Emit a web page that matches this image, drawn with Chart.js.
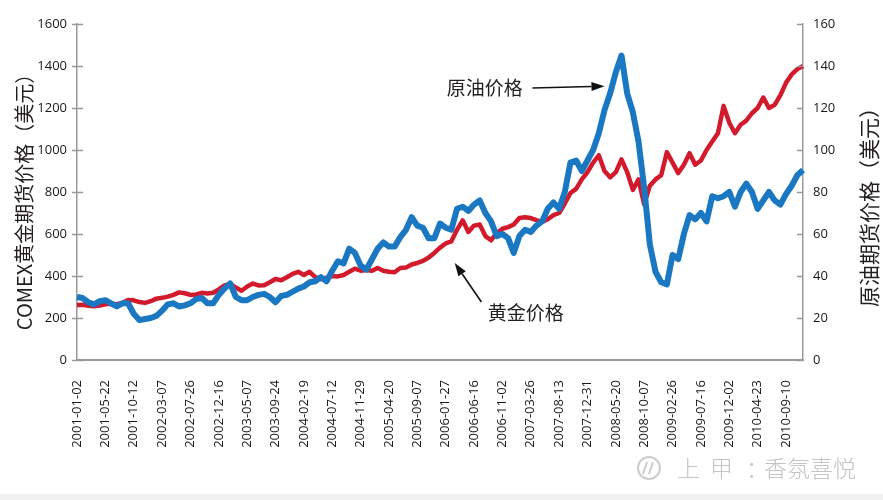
<!DOCTYPE html>
<html>
<head>
<meta charset="utf-8">
<script src="https://cdn.jsdelivr.net/npm/chart.js@4.4.1/dist/chart.umd.min.js"></script>
<style>
html,body{margin:0;padding:0;background:#fff;}
#wrap{width:883px;height:500px;position:relative;overflow:hidden;}
canvas{display:block;}
</style>
</head>
<body>
<div id="wrap"><canvas id="c" width="883" height="500"></canvas></div>
<script>
// ---------- data ----------
const tickLabels = [
  '2001-01-02','2001-05-22','2001-10-12','2002-03-07','2002-07-26','2002-12-16',
  '2003-05-07','2003-09-24','2004-02-19','2004-07-12','2004-11-29','2005-04-20',
  '2005-09-07','2006-01-27','2006-06-16','2006-11-02','2007-03-26','2007-08-13',
  '2007-12-31','2008-05-20','2008-10-07','2009-02-26','2009-07-16','2009-12-02',
  '2010-04-23','2010-09-10'
];
const samplesPerTick = 5; // data samples between two date labels

// COMEX gold futures (USD), sampled
const goldPrices = [
  262,263,258,256,259, 265,268,266,272,286,
  284,276,272,280,292, 296,302,310,322,318,
  310,312,320,317,320, 336,355,362,345,330,
  350,364,355,356,370, 386,380,394,410,420,
  405,420,395,385,392, 400,398,405,420,435,
  425,428,425,438,425, 420,418,438,440,455,
  462,472,488,510,535, 555,565,620,665,610,
  640,645,590,570,605, 625,633,645,676,680,
  676,666,657,670,690, 700,745,795,815,860,
  895,940,975,900,870, 895,955,895,810,860,
  740,830,860,880,990, 940,890,930,985,930,
  950,1000,1040,1080,1210, 1130,1080,1120,1140,1175,
  1200,1250,1200,1215,1260, 1320,1360,1385,1400
];

// Crude oil futures (USD), sampled
const oilPrices = [
  30,29.5,27.5,26.5,28, 28.5,27,25.5,27,27,
  22,19,19.5,20,21, 23.5,26.5,27,25.5,26,
  27,29,29.5,27,27, 31,34,36.5,30,28.5,
  28.5,30,31,31.5,30, 27.5,30.5,31,32.5,34,
  35,37,37.5,39.5,37.5, 42.5,47,46,53,51,
  45,43,48,53,56, 54,54,58.5,62,68,
  64,63,58,58,65, 63,62,72,73,71,
  74,76,70,66,59, 60,58,51,59,62,
  61,64,66,72,75, 72,80,94,95,90,
  95,100,108,119,127, 137,145,127,118,104,
  82,55,42,37,36, 50,48,60,69,67,
  70,66,78,77,78, 80,73,80,84,80,
  72,76,80,76,74, 79,83,88,90.5
];

const goldTicks = {min: 0, max: 1600, step: 200};
const oilTicks = {min: 0, max: 160, step: 20};

const leftTitle = 'COMEX黄金期货价格（美元）';
const rightTitle = '原油期货价格（美元）';
const oilNoteText = '原油价格';
const goldNoteText = '黄金价格';
const watermarkParts = ['上', '甲', '：', '香氛喜悦'];

// category labels: a date every samplesPerTick samples
const labels = oilPrices.map((_, i) =>
  (i % samplesPerTick === 0 && tickLabels[i / samplesPerTick]) ? tickLabels[i / samplesPerTick] : '');

// ---------- decoration plugin ----------
const TICK_FONT = "'Open Sans', 'Liberation Sans', sans-serif";
const CJK_FONT = "'Noto Sans CJK SC', sans-serif";

function arrow(ctx, x1, y1, x2, y2) {
  const ang = Math.atan2(y2 - y1, x2 - x1);
  const L = 13, W = 4.5;
  const bx = x2 - L * Math.cos(ang), by = y2 - L * Math.sin(ang);
  ctx.beginPath();
  ctx.moveTo(x1, y1);
  ctx.lineTo(bx, by);
  ctx.stroke();
  ctx.beginPath();
  ctx.moveTo(x2, y2);
  ctx.lineTo(bx + W * Math.sin(ang), by - W * Math.cos(ang));
  ctx.lineTo(bx - W * Math.sin(ang), by + W * Math.cos(ang));
  ctx.closePath();
  ctx.fill();
}

const decor = {
  id: 'decor',
  beforeDraw(chart) {
    const ctx = chart.ctx;
    ctx.save();
    ctx.fillStyle = '#ffffff';
    ctx.fillRect(0, 0, chart.width, chart.height);
    ctx.fillStyle = '#f1f1f1';
    ctx.fillRect(0, 494, chart.width, 6);
    ctx.restore();
  },
  afterDraw(chart) {
    const ctx = chart.ctx, a = chart.chartArea;
    const xs = chart.scales.x, ys = chart.scales.y, y1 = chart.scales.y1;
    ctx.save();
    // tick marks
    ctx.strokeStyle = '#9a9a9a';
    ctx.lineWidth = 1.5;
    ys.ticks.forEach((t, i) => {
      const py = Math.round(ys.getPixelForTick(i)) + 0.5;
      ctx.beginPath(); ctx.moveTo(a.left - 5, py); ctx.lineTo(a.left + 6, py); ctx.stroke();
    });
    y1.ticks.forEach((t, i) => {
      const py = Math.round(y1.getPixelForTick(i)) + 0.5;
      ctx.beginPath(); ctx.moveTo(a.right - 6, py); ctx.lineTo(a.right, py); ctx.stroke();
    });

    // axis titles (both read bottom-to-top)
    ctx.fillStyle = '#231f20';
    ctx.textAlign = 'center';
    ctx.textBaseline = 'middle';
    ctx.font = '20px ' + CJK_FONT;
    ctx.save();
    ctx.translate(24, (a.top + a.bottom) / 2 + 5);
    ctx.rotate(-Math.PI / 2);
    ctx.fillText(leftTitle, 0, 0);
    ctx.restore();
    ctx.font = '21px ' + CJK_FONT;
    ctx.save();
    ctx.translate(869, (a.top + a.bottom) / 2 + 10);
    ctx.rotate(-Math.PI / 2);
    ctx.fillText(rightTitle, 0, 0);
    ctx.restore();

    // annotations, anchored in data space
    ctx.font = '19px ' + CJK_FONT;
    ctx.textAlign = 'left';
    ctx.fillStyle = '#231f20';
    ctx.strokeStyle = '#111';
    ctx.lineWidth = 1.6;
    const px = v => xs.getPixelForValue(v);
    // oil note
    ctx.fillText(oilNoteText, px(65.2), y1.getPixelForValue(129.5));
    ctx.fillStyle = '#111';
    arrow(ctx, px(80.3), y1.getPixelForValue(129.5), px(93.0), y1.getPixelForValue(130.4));
    // gold note
    ctx.fillStyle = '#231f20';
    ctx.fillText(goldNoteText, px(72.4), ys.getPixelForValue(224));
    ctx.fillStyle = '#111';
    arrow(ctx, px(71.3), ys.getPixelForValue(276), px(66.6), ys.getPixelForValue(462));

    // watermark
    ctx.strokeStyle = '#cccccc';
    ctx.lineWidth = 2;
    ctx.beginPath();
    ctx.arc(649, 468, 11, 0, Math.PI * 2);
    ctx.stroke();
    ctx.beginPath();
    ctx.moveTo(643, 474); ctx.lineTo(647, 462); ctx.moveTo(649, 474); ctx.lineTo(653, 462);
    ctx.stroke();
    ctx.fillStyle = '#c4c4c4';
    ctx.font = '300 23px ' + CJK_FONT;
    ctx.textBaseline = 'middle';
    const wmX = [677, 710, 746, 764];
    watermarkParts.forEach((t, i) => ctx.fillText(t, wmX[i], 468));
    ctx.restore();
  }
};

// ---------- chart ----------
const tickFont = {family: TICK_FONT, size: 13};
const tickColor = '#1a1718';
const axisGrey = '#9a9a9a';

new Chart(document.getElementById('c').getContext('2d'), {
  type: 'line',
  data: {
    labels: labels,
    datasets: [
      {
        label: '原油价格', data: oilPrices, yAxisID: 'y1',
        borderColor: '#1a78c2', borderWidth: 6, pointRadius: 0,
        tension: 0, fill: false, order: 0, borderJoinStyle: 'round'
      },
      {
        label: '黄金价格', data: goldPrices, yAxisID: 'y',
        borderColor: '#d21a2c', borderWidth: 4.5, pointRadius: 0,
        tension: 0, fill: false, order: 1, borderJoinStyle: 'round'
      }
    ]
  },
  options: {
    responsive: false,
    animation: false,
    devicePixelRatio: 1,
    layout: {padding: {top: 24, left: 0, right: 0, bottom: 0}},
    plugins: {legend: {display: false}, tooltip: {enabled: false}},
    scales: {
      x: {
        type: 'category',
        grid: {display: false, drawTicks: false},
        border: {display: true, color: axisGrey, width: 2},
        ticks: {
          autoSkip: false, minRotation: 90, maxRotation: 90, padding: 20,
          color: tickColor, font: tickFont,
          callback: (v, i) => labels[i]
        },
        afterFit(s) { s.height = 140; }
      },
      y: {
        position: 'left',
        min: goldTicks.min, max: goldTicks.max,
        grid: {display: false, drawTicks: false},
        border: {display: true, color: axisGrey, width: 1.5},
        ticks: {stepSize: goldTicks.step, padding: 10, color: tickColor, font: tickFont,
                callback: v => String(v)},
        afterFit(s) { s.width = 77; }
      },
      y1: {
        position: 'right',
        min: oilTicks.min, max: oilTicks.max,
        grid: {display: false, drawTicks: false},
        border: {display: true, color: axisGrey, width: 1.5},
        ticks: {stepSize: oilTicks.step, padding: 10, color: tickColor, font: tickFont,
                callback: v => String(v)},
        afterFit(s) { s.width = 80; }
      }
    }
  },
  plugins: [decor]
});
</script>
</body>
</html>
